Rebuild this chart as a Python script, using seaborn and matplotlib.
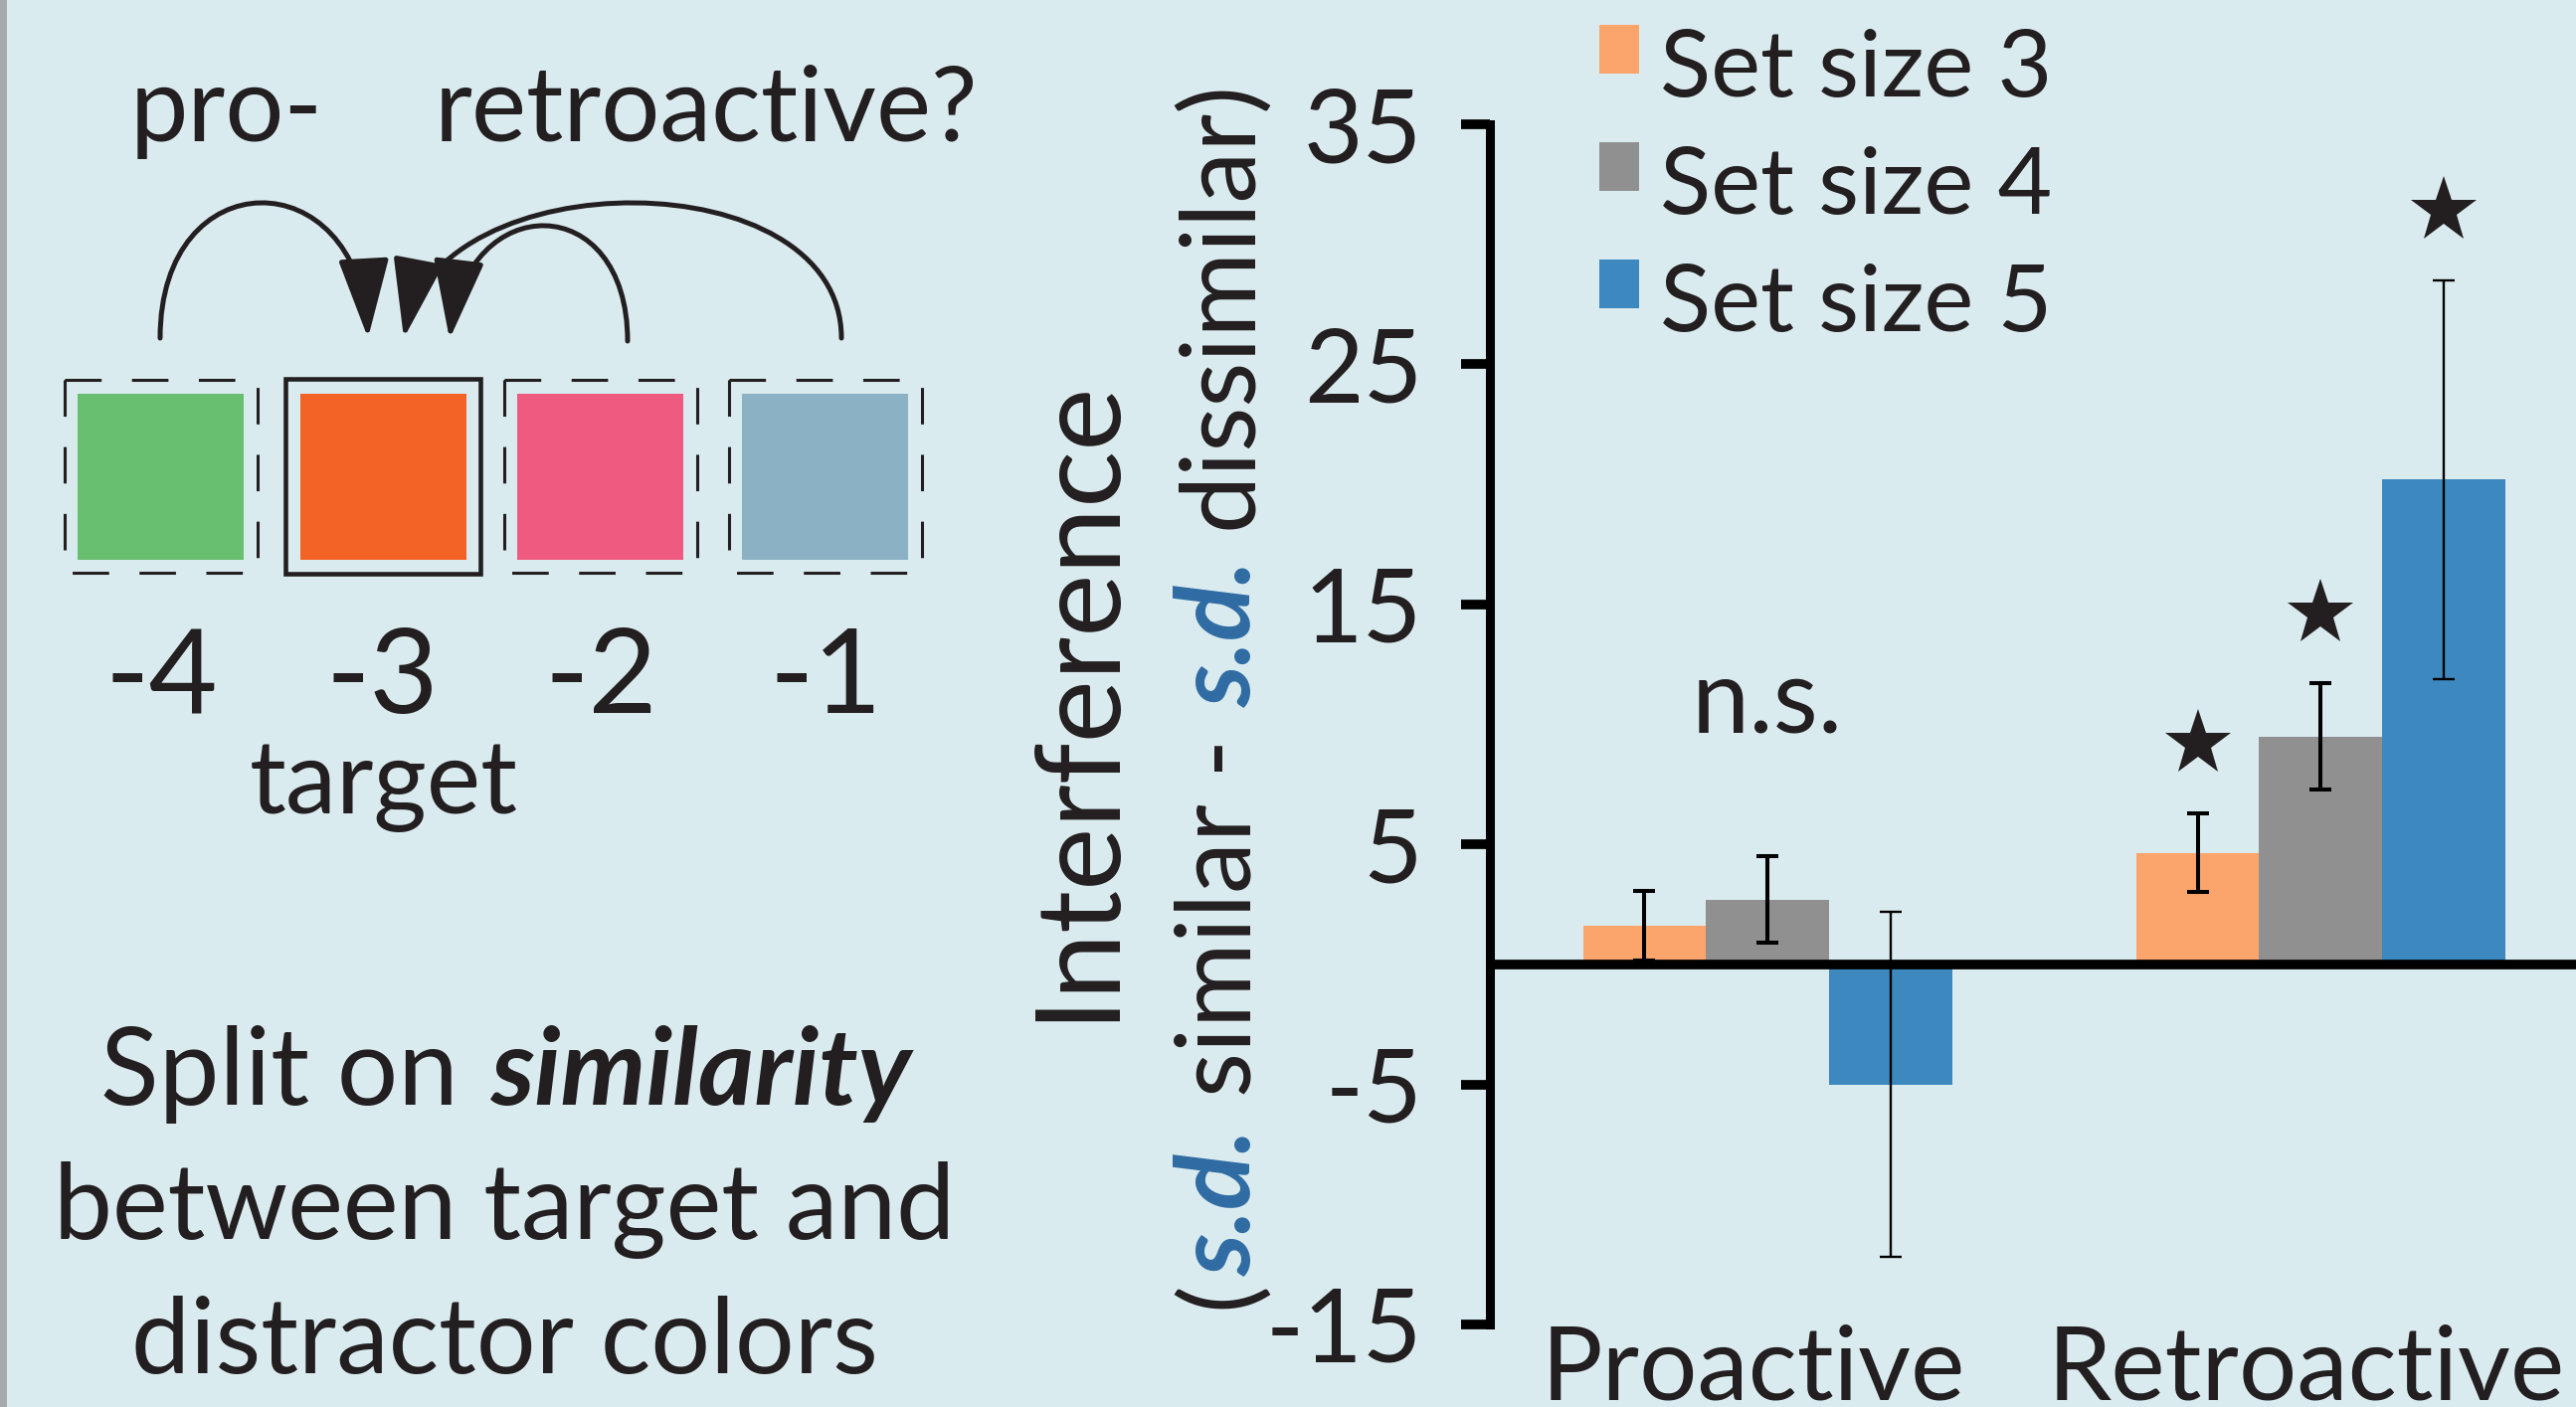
import matplotlib
matplotlib.use("Agg")
import matplotlib.pyplot as plt
import matplotlib.transforms as mtransforms
import pandas as pd
import seaborn as sns
from matplotlib.patches import Rectangle, FancyArrowPatch, ArrowStyle, Patch
from matplotlib.path import Path
from matplotlib.legend_handler import HandlerPatch

# ---- data -------------------------------------------------------------
conditions = ["Proactive", "Proactive", "Proactive",
              "Retroactive", "Retroactive", "Retroactive"]
set_sizes = ["Set size 3", "Set size 4", "Set size 5",
             "Set size 3", "Set size 4", "Set size 5"]
interference = [1.6, 2.7, -5.0, 4.65, 9.5, 20.2]
sem = [1.45, 1.8, 7.2, 1.65, 2.2, 8.3]
significant = [False, False, False, True, True, True]
y_ticks = [-15, -5, 5, 15, 25, 35]

positions = ["-4", "-3", "-2", "-1"]
item_colors = ["#67bf6f", "#f26325", "#ef5a80", "#8bb1c4"]
target_index = 1
bar_colors = ["#fba46c", "#909090", "#3d88bf"]

# ---- style ------------------------------------------------------------
W, H = 2590, 1415
BG = "#daebef"
INK = "#231f20"
SD_BLUE = "#2f6ca3"

sns.set_theme(style="white")
plt.rcParams["font.family"] = ["Lato", "DejaVu Sans"]
plt.rcParams["axes.unicode_minus"] = False
plt.rcParams["text.color"] = INK

fig = plt.figure(figsize=(W / 100, H / 100), dpi=100, facecolor=BG)


def fx(px):
    return px / W


def fy(py):
    return 1 - py / H


renderer = fig.canvas.get_renderer()


def ink_width(s, size, **kw):
    t = fig.text(0, 0, s, fontsize=size, **kw)
    w = t.get_window_extent(renderer).width
    t.remove()
    return w


def draw_runs(x0, y0, runs, size, rotation=0, center=False):
    """Draw a line made of differently styled pieces, starting at display
    pixel (x0, y0) (y measured upward) along the reading direction."""
    space = ink_width("n n", size) - ink_width("nn", size)
    bearing = 0.05 * size * 100 / 72
    items = []
    for s, kw in runs:
        core = s.strip(" ")
        lead = (len(s) - len(s.lstrip(" "))) * space
        trail = (len(s) - len(s.rstrip(" "))) * space
        items.append((core, kw, lead, ink_width(core, size, **kw), trail))
    total = sum(l + w + t for _, _, l, w, t in items) + bearing * (len(items) - 1)
    pos = -total / 2 if center else 0.0
    for core, kw, lead, w, trail in items:
        pos += lead
        if rotation == 90:
            px, py = x0, y0 + pos
        else:
            px, py = x0 + pos, y0
        fig.text(px / W, py / H, core, fontsize=size, rotation=rotation,
                 rotation_mode="anchor", ha="left", va="baseline", **kw)
        pos += w + trail + bearing


# ---- bar chart --------------------------------------------------------
ax = fig.add_axes([fx(1498), fy(1332), 1 - fx(1498), (1332 - 125) / H])
ax.set_facecolor("none")

df = pd.DataFrame({"condition": conditions, "set_size": set_sizes,
                   "interference": interference})
sns.barplot(data=df, x="condition", y="interference", hue="set_size",
            palette=bar_colors, width=0.667, saturation=1, errorbar=None,
            linewidth=0, ax=ax)

# centre of the bar drawn for each value
bar_patches = [p for p in ax.patches if p.get_width() > 0.05]
centers = []
for m in interference:
    p = min(bar_patches, key=lambda b: abs(b.get_height() - m))
    centers.append(p.get_x() + p.get_width() / 2)

for xc, m, e, s in zip(centers, interference, sem, set_sizes):
    lw = 1.7 if s == "Set size 5" else 2.9
    ax.errorbar(xc, m, yerr=e, fmt="none", ecolor="black", elinewidth=lw,
                capsize=8, capthick=lw, zorder=3)

star_x = [c for c, s in zip(centers, significant) if s]
star_y = [m + e + 2.9 for m, e, s in zip(interference, sem, significant) if s]
ax.plot(star_x, star_y, ls="none", marker="*", ms=50, mew=0, color=INK,
        clip_on=False, zorder=4)

ax.text(0, 9.65, "n.s.", ha="center", va="baseline", fontsize=75, color=INK)

ax.axhline(0, color="black", lw=7, zorder=5)

ax.set_xlim(-0.502, 1.462)
ax.set_ylim(-15, 35)
ax.set_yticks(y_ticks)
ax.set_yticklabels([str(t) for t in y_ticks])
for side in ["top", "right", "bottom"]:
    ax.spines[side].set_visible(False)
ax.spines["left"].set_linewidth(6.5)
ax.spines["left"].set_color("black")
ax.spines["left"].set_bounds(-15, 35)
ax.tick_params(axis="y", direction="out", left=True, length=21, width=7,
               pad=28, labelsize=74, color="black", labelcolor=INK)
ax.tick_params(axis="x", bottom=False, length=0, pad=0, labelsize=74,
               labelcolor=INK)
shift = mtransforms.ScaledTranslation(-14 / 100, 0, fig.dpi_scale_trans)
for lbl in ax.get_xticklabels():
    lbl.set_transform(lbl.get_transform() + shift)
ax.set_xlabel("")
ax.set_ylabel("")

# legend with square swatches
handles, labels = ax.get_legend_handles_labels()
if ax.get_legend() is not None:
    ax.get_legend().remove()


def square_patch(legend, orig_handle, xdescent, ydescent, width, height, fontsize):
    return Rectangle((-xdescent, -ydescent + 10), width, height)


fig.legend(handles, labels, loc="upper left",
           bbox_to_anchor=(fx(1608), fy(29)), bbox_transform=fig.transFigure,
           frameon=False, fontsize=68, handlelength=0.42, handleheight=0.42,
           handletextpad=0.23, labelspacing=0.36, borderpad=0,
           borderaxespad=0, handler_map={Patch: HandlerPatch(patch_func=square_patch)})

# axis title, two rotated lines
fig.text(fx(1116), 388 / H, "Interference", fontsize=86, rotation=90,
         rotation_mode="anchor", ha="left", va="baseline", color=INK)
sd = dict(color=SD_BLUE, fontweight="bold", fontstyle="italic")
plain = dict(color=INK)
draw_runs(1258, H - 1316,
          [("(", plain), ("s.d.", sd), (" similar - ", plain),
           ("s.d.", sd), (" dissimilar)", plain)],
          size=75, rotation=90)

# ---- schematic panel --------------------------------------------------
lax = fig.add_axes([0, 0, fx(1000), 1])
lax.set_xlim(0, 1000)
lax.set_ylim(H, 0)
lax.axis("off")

outer_left = [65, 287, 507, 733]
inner_left = [78, 302, 520, 746]
for i, (ol, il, col, lab) in enumerate(zip(outer_left, inner_left, item_colors, positions)):
    if i == target_index:
        lax.add_patch(Rectangle((ol, 381), 196, 196, fill=False, ec=INK, lw=3.3))
    else:
        lax.add_patch(Rectangle((ol, 382), 194, 194, fill=False, ec=INK, lw=2.2,
                                ls=(0, (12, 10))))
    lax.add_patch(Rectangle((il, 396), 167, 167, fc=col, ec="none"))
    lax.text(ol + 97, 717, lab, fontsize=86, ha="center", va="baseline", color=INK)

lax.text(386, 818, "target", fontsize=74, ha="center", va="baseline", color=INK)
lax.text(228, 142, "pro-", fontsize=75, ha="center", va="baseline", color=INK)
lax.text(710, 142, "retroactive?", fontsize=75, ha="center", va="baseline", color=INK)

arcs = [
    [(161, 340), (161, 160), (360, 160), (370, 340)],
    [(631, 343), (631, 190), (470, 190), (452, 341)],
    [(846, 340), (846, 160), (440, 160), (406, 340)],
]
head = ArrowStyle("-|>", head_length=50, head_width=16)
for verts in arcs:
    path = Path(verts, [Path.MOVETO, Path.CURVE4, Path.CURVE4, Path.CURVE4])
    lax.add_patch(FancyArrowPatch(path=path, arrowstyle=head, mutation_scale=1,
                                  lw=3.6, color=INK, transform=lax.transData))

draw_runs(509, H - 1111,
          [("Split on ", plain),
           ("similarity", dict(color=INK, fontweight="bold", fontstyle="italic"))],
          size=78, center=True)
lax.text(507, 1246, "between target and", fontsize=76, ha="center", va="baseline", color=INK)
lax.text(507, 1381, "distractor colors", fontsize=76, ha="center", va="baseline", color=INK)

# thin grey edge along the left border
fig.add_artist(Rectangle((0, 0), fx(7), 1, transform=fig.transFigure,
                         fc="#a7a9ac", ec="none", zorder=10))

fig.savefig("out.png", dpi=100, facecolor=BG)
